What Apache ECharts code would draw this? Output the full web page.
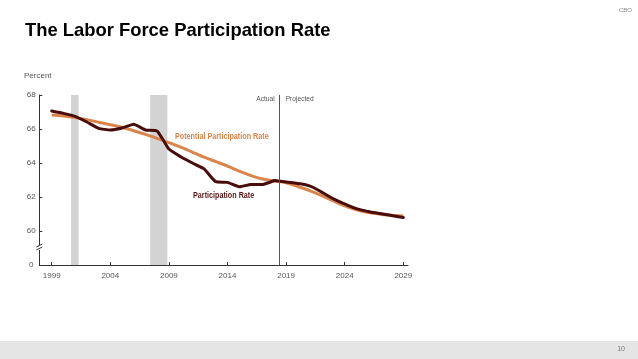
<!DOCTYPE html>
<html>
<head>
<meta charset="utf-8">
<script src="https://cdn.jsdelivr.net/npm/echarts@6/dist/echarts.min.js"></script>
<style>
html,body{margin:0;padding:0;background:#fff;}
#c{width:638px;height:359px;}
</style>
</head>
<body>
<div id="c"></div>
<script>
// ---- data ----
const historyYears = [1999,2000,2001,2002,2003,2004,2005,2006,2007,2008,2009,2010,2011,2012,2013,2014,2015,2016,2017,2018];
const participationHistory = [67.06,66.92,66.74,66.41,66.04,65.94,66.06,66.28,65.94,65.88,64.82,64.37,64.0,63.65,62.9,62.86,62.6,62.74,62.74,62.97];
const projectionYears = [2018,2019,2020,2021,2022,2023,2024,2025,2026,2027,2028,2029];
const participationProjected = [62.97,62.88,62.8,62.65,62.3,61.9,61.59,61.32,61.15,61.03,60.91,60.8];
const potentialYears = [1999,2000,2001,2002,2003,2004,2005,2006,2007,2008,2009,2010,2011,2012,2013,2014,2015,2016,2017,2018,2019,2020,2021,2022,2023,2024,2025,2026,2027,2028,2029];
const potentialRate = [66.82,66.76,66.67,66.55,66.4,66.25,66.1,65.9,65.68,65.45,65.2,64.94,64.64,64.34,64.08,63.82,63.52,63.26,63.06,62.94,62.84,62.62,62.38,62.1,61.78,61.48,61.25,61.08,60.99,60.93,60.88];
const recessions = [[2000.65, 2001.3], [2007.4, 2008.87]];
const xTickYears = [1999,2004,2009,2014,2019,2024,2029];
const yTickLabels = {58:'0',60:'60',62:'62',64:'64',66:'66',68:'68'};
const projectionStart = 2018.45;

const pair = (xs, ys) => xs.map((x,i)=>[x, ys[i]]);

const chart = echarts.init(document.getElementById('c'), null, {renderer:'canvas'});
const axisFont = '"Liberation Sans", Arial, sans-serif';
const XMIN = 1997.94, XMAX = 2029.4;

chart.setOption({
  animation:false,
  backgroundColor:'#fff',
  grid:{left:39.3, right:230, top:95, bottom:94, containLabel:false},
  xAxis:{
    type:'value', min:XMIN, max:XMAX,
    splitLine:{show:false},
    axisLine:{show:true, lineStyle:{color:'#333', width:1}},
    axisTick:{show:true, inside:true, length:3, customValues:xTickYears, lineStyle:{color:'#333'}},
    axisLabel:{show:true, customValues:xTickYears, color:'#555', fontSize:8, fontFamily:axisFont, margin:7,
      formatter:v=>String(Math.round(v))}
  },
  yAxis:{
    type:'value', min:58, max:68, interval:2,
    splitLine:{show:false},
    axisLine:{show:true, lineStyle:{color:'#333', width:1}},
    axisTick:{show:true, inside:true, length:3, lineStyle:{color:'#333'}},
    axisLabel:{color:'#555', fontSize:8, fontFamily:axisFont, margin:8, align:'center',
      formatter:v=>yTickLabels[v] !== undefined ? yTickLabels[v] : ''}
  },
  series:[
    {
      type:'line', data:[], z:1, silent:true,
      markArea:{silent:true, itemStyle:{color:'#d3d3d3'},
        data: recessions.map(r=>[{xAxis:r[0]},{xAxis:r[1]}])}
    },
    {
      type:'line', data:[], z:1, silent:true,
      markLine:{silent:true, symbol:'none', label:{show:false},
        lineStyle:{color:'#555', width:1, type:'solid'},
        data:[{xAxis:projectionStart}]}
    },
    {
      name:'Potential Participation Rate', type:'line', z:3,
      data: pair(potentialYears, potentialRate),
      smooth:0.3, showSymbol:false,
      lineStyle:{color:'#d9844a', width:3}
    },
    {
      name:'Participation Rate', type:'line', z:4,
      data: pair(historyYears, participationHistory),
      smooth:0.15, showSymbol:false,
      lineStyle:{color:'#4a0b0b', width:3, cap:'round', join:'round'}
    },
    {
      name:'Participation Rate (projected)', type:'line', z:4,
      data: pair(projectionYears, participationProjected),
      smooth:0.4, showSymbol:false,
      lineStyle:{color:'#4a0b0b', width:3, cap:'round', join:'round'}
    }
  ]
});

// annotations positioned through the chart's scales
const px = (x,y)=>chart.convertToPixel({xAxisIndex:0,yAxisIndex:0},[x,y]);
const brk = px(XMIN, 59);
const divTop = px(projectionStart, 68);
const potLbl = px(2009.52, 65.55);
const partLbl = px(2011.06, 62.07);

chart.setOption({
  graphic:[
    {type:'text', left:25, top:22, style:{text:'The Labor Force Participation Rate', fill:'#000', font:'bold 18.4px "Liberation Sans", Arial, sans-serif'}},
    {type:'text', right:6, top:7, style:{text:'CBO', fill:'#888', font:'6px "Liberation Sans", Arial, sans-serif'}},
    {type:'text', left:24, top:72, style:{text:'Percent', fill:'#555', font:'8px "Liberation Sans", Arial, sans-serif'}},
    {type:'rect', left:0, top:341, shape:{width:638, height:18}, style:{fill:'#e5e5e5'}, z:-1},
    {type:'text', right:13, top:346, style:{text:'10', fill:'#777', font:'7px "Liberation Sans", Arial, sans-serif'}},
    // axis break
    {type:'rect', x:brk[0]-3, y:brk[1]-3, shape:{width:6,height:5}, style:{fill:'#fff'}, z:100},
    {type:'line', shape:{x1:brk[0]-3, y1:brk[1]-1, x2:brk[0]+3, y2:brk[1]-4}, style:{stroke:'#333', lineWidth:1}, z:101},
    {type:'line', shape:{x1:brk[0]-3, y1:brk[1]+2, x2:brk[0]+3, y2:brk[1]-1}, style:{stroke:'#333', lineWidth:1}, z:101},
    // Actual / Projected
    {type:'text', x:divTop[0]-5, y:divTop[1]+4, scaleX:0.83,
      style:{text:'Actual', fill:'#555', font:'8px '+axisFont, align:'right', verticalAlign:'middle'}},
    {type:'text', x:divTop[0]+6, y:divTop[1]+4, scaleX:0.83,
      style:{text:'Projected', fill:'#555', font:'8px '+axisFont, align:'left', verticalAlign:'middle'}},
    // series labels
    {type:'text', x:potLbl[0], y:potLbl[1], scaleX:0.8,
      style:{text:'Potential Participation Rate', fill:'#d9844a', font:'bold 9px '+axisFont, align:'left', verticalAlign:'middle'}},
    {type:'text', x:partLbl[0], y:partLbl[1], scaleX:0.8,
      style:{text:'Participation Rate', fill:'#5a1414', font:'bold 9px '+axisFont, align:'left', verticalAlign:'middle'}}
  ]
});
</script>
</body>
</html>
